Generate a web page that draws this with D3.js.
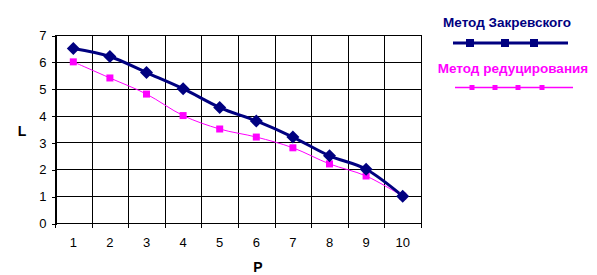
<!DOCTYPE html>
<html><head><meta charset="utf-8">
<script src="https://cdn.jsdelivr.net/npm/d3@7"></script>
<style>body{margin:0;background:#fff}svg{display:block}text{font-family:Arial,"Liberation Sans",sans-serif}</style>
</head><body>
<svg id="c" width="597" height="275"></svg>
<script>
const categories = [1,2,3,4,5,6,7,8,9,10];
const zakrevsky = [6.5,6.2,5.6,5.0,4.3,3.8,3.2,2.5,2.0,1.0];
const reduction = [6.0,5.4,4.8,4.0,3.5,3.2,2.8,2.2,1.75,1.0];
const yTicks = [0,1,2,3,4,5,6,7];
const seriesNames = ["Метод Закревского","Метод редуцирования"];

const svg = d3.select("#c");
const L=55, R=421, T=35, B=223;
const x = d3.scaleBand().domain(categories).range([L,R]);
const y = d3.scaleLinear().domain([0,7]).range([B,T]);
const cx = d => x(d)+x.bandwidth()/2;

const grid = svg.append("g").attr("shape-rendering","crispEdges");
grid.selectAll("line.h").data(yTicks).join("line").attr("class","h")
  .attr("x1",L).attr("x2",R).attr("y1",d=>Math.round(y(d))+0.5).attr("y2",d=>Math.round(y(d))+0.5)
  .attr("stroke","#000").attr("stroke-width",1);
const bounds = categories.map(c=>x(c)).concat([R]);
grid.selectAll("line.v").data(bounds).join("line").attr("class","v")
  .attr("x1",d=>Math.round(d)+0.5).attr("x2",d=>Math.round(d)+0.5).attr("y1",T).attr("y2",B+5)
  .attr("stroke","#000").attr("stroke-width",1);
const ya = svg.append("g").attr("transform",`translate(${L+0.5},0.5)`).attr("shape-rendering","crispEdges")
  .call(d3.axisLeft(y).tickValues(yTicks).tickFormat(d3.format("d")).tickSize(4).tickPadding(5));
ya.select(".domain").attr("stroke","#000");
ya.selectAll("line").attr("stroke","#000");
ya.selectAll("text").attr("font-size",13).attr("fill","#000").style("font-family","Arial");
const xa = svg.append("g").attr("transform",`translate(0,${B+0.5})`)
  .call(d3.axisBottom(x).tickSize(0).tickPadding(14));
xa.select(".domain").remove();
xa.selectAll("text").attr("font-size",13).attr("fill","#000").style("font-family","Arial");

const line = d3.line().x((d,i)=>cx(categories[i])).y(d=>y(d)).curve(d3.curveCardinal.tension(0));

svg.append("path").datum(reduction).attr("d",line).attr("fill","none").attr("stroke","#FF00FF").attr("stroke-width",1);
svg.append("path").datum(zakrevsky).attr("d",line).attr("fill","none").attr("stroke","#000080").attr("stroke-width",3);

svg.append("g").selectAll("rect").data(reduction).join("rect")
  .attr("x",(d,i)=>cx(categories[i])-3.5).attr("y",d=>y(d)-3.5).attr("width",7).attr("height",7).attr("fill","#FF00FF");
svg.append("g").selectAll("path").data(zakrevsky).join("path")
  .attr("transform",(d,i)=>`translate(${cx(categories[i])},${y(d)})`)
  .attr("d","M0,-6.5L6.5,0L0,6.5L-6.5,0Z").attr("fill","#000080");

svg.append("text").attr("x",22).attr("y",136).attr("text-anchor","middle").attr("font-size",14).attr("font-weight","bold").text("L");
svg.append("text").attr("x",258).attr("y",272).attr("text-anchor","middle").attr("font-size",14).attr("font-weight","bold").text("P");

svg.append("text").attr("x",507).attr("y",27).attr("text-anchor","middle").attr("font-size",13.5).attr("font-weight","bold").attr("fill","#000080").text(seriesNames[0]);
svg.append("line").attr("x1",453).attr("x2",568).attr("y1",43).attr("y2",43).attr("stroke","#000080").attr("stroke-width",3);
[470,505,534].forEach(px=>svg.append("rect").attr("x",px-4).attr("y",39).attr("width",8).attr("height",8).attr("fill","#000080"));
svg.append("text").attr("x",513).attr("y",73).attr("text-anchor","middle").attr("font-size",13.5).attr("font-weight","bold").attr("fill","#FF00FF").text(seriesNames[1]);
svg.append("line").attr("x1",455).attr("x2",573).attr("y1",87.5).attr("y2",87.5).attr("stroke","#FF00FF").attr("stroke-width",1.5);
[472,495,518,542].forEach(px=>svg.append("rect").attr("x",px-2.5).attr("y",85).attr("width",5).attr("height",5).attr("fill","#FF00FF"));
</script>
</body></html>
